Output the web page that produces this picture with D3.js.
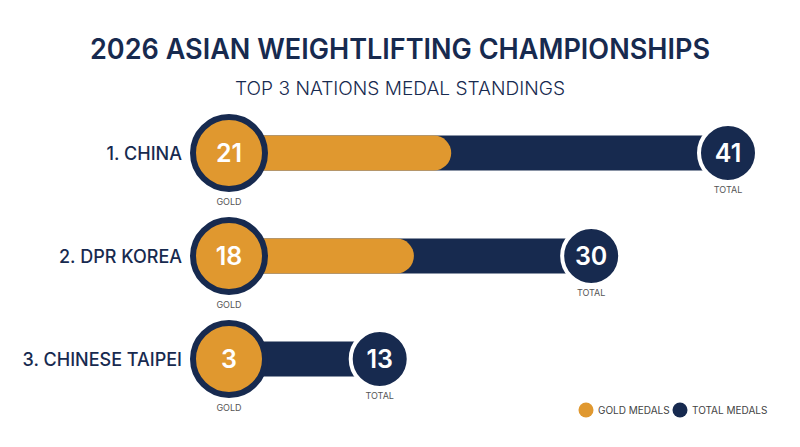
<!DOCTYPE html>
<html>
<head>
<meta charset="utf-8">
<script src="https://cdn.jsdelivr.net/npm/d3@7"></script>
<style>
  body { margin: 0; background: #fff; }
  svg { display: block; font-family: Inter, "Open Sans", sans-serif; }
</style>
</head>
<body>
<script>
'use strict';

// chart data
const nations = ["1. CHINA", "2. DPR KOREA", "3. CHINESE TAIPEI"];
const goldMedals = [21, 18, 3];
const totalMedals = [41, 30, 13];
const legendLabels = ["GOLD MEDALS", "TOTAL MEDALS"];
const titleText = "2026 ASIAN WEIGHTLIFTING CHAMPIONSHIPS";
const subtitleText = "TOP 3 NATIONS MEDAL STANDINGS";

const GOLD = "#e0982f";
const NAVY = "#172a4f";

(function() {
  let width = 800, height = 447;
  let svg = d3.select('body').append('svg')
    .attr('width', width)
    .attr('height', height);

  let rows = nations.map((n, i) => ({ name: n, gold: goldMedals[i], total: totalMedals[i] }));

  // x scale for medal counts, y for rows
  let x = d3.scaleLinear().domain([0, 41]).range([190, 700]);
  let y = d3.scalePoint().domain(nations).range([153, 359]);

  let barH = 35;
  let startX = 229; // centre of the gold badge

  // title
  svg.append('text')
    .attr('x', width / 2).attr('y', 59)
    .attr('text-anchor', 'middle')
    .style('font-size', '28px').style('font-weight', 600)
    .attr('fill', NAVY)
    .attr('textLength', 620).attr('lengthAdjust', 'spacingAndGlyphs')
    .text(titleText);

  svg.append('text')
    .attr('x', width / 2).attr('y', 95)
    .attr('text-anchor', 'middle')
    .style('font-size', '18px').style('font-weight', 300)
    .attr('fill', NAVY)
    .attr('textLength', 330).attr('lengthAdjust', 'spacingAndGlyphs')
    .text(subtitleText);

  let g = svg.selectAll('.row')
    .data(rows)
    .enter()
    .append('g')
    .attr('class', 'row')
    .attr('transform', d => 'translate(0,' + y(d.name) + ')');

  // total bar (navy)
  g.append('rect')
    .attr('x', startX)
    .attr('y', -barH / 2)
    .attr('width', d => x(d.total) + 10 - startX)
    .attr('height', barH)
    .attr('fill', NAVY);

  // gold bar with rounded end
  g.append('rect')
    .attr('x', startX)
    .attr('y', -barH / 2)
    .attr('width', d => Math.max(x(d.gold) - startX, barH))
    .attr('height', barH)
    .attr('rx', barH / 2)
    .attr('fill', GOLD);

  // gold badge
  g.append('circle')
    .attr('cx', startX).attr('cy', 0)
    .attr('r', 36)
    .attr('fill', GOLD)
    .attr('stroke', NAVY)
    .attr('stroke-width', 6);

  g.append('text')
    .attr('x', startX).attr('y', 9)
    .attr('text-anchor', 'middle')
    .style('font-size', '25px').style('font-weight', 600)
    .attr('fill', '#fff')
    .text(d => d.gold);

  g.append('text')
    .attr('x', startX).attr('y', 52)
    .attr('text-anchor', 'middle')
    .style('font-size', '9px')
    .attr('fill', '#555')
    .text('GOLD');

  // total badge
  g.append('circle')
    .attr('cx', d => x(d.total) + 28).attr('cy', 0)
    .attr('r', 29)
    .attr('fill', NAVY)
    .attr('stroke', '#fff')
    .attr('stroke-width', 4);

  g.append('text')
    .attr('x', d => x(d.total) + 28).attr('y', 9)
    .attr('text-anchor', 'middle')
    .style('font-size', '25px').style('font-weight', 600)
    .attr('fill', '#fff')
    .text(d => d.total);

  g.append('text')
    .attr('x', d => x(d.total) + 28).attr('y', 40)
    .attr('text-anchor', 'middle')
    .style('font-size', '9px')
    .attr('fill', '#555')
    .text('TOTAL');

  // nation labels
  g.append('text')
    .attr('x', 182).attr('y', 7)
    .attr('text-anchor', 'end')
    .style('font-size', '18px').style('font-weight', 500)
    .attr('fill', NAVY)
    .text(d => d.name);

  // legend
  let legendX = [586, 680];
  let legend = svg.selectAll('.legend')
    .data(legendLabels)
    .enter()
    .append('g')
    .attr('class', 'legend')
    .attr('transform', (d, i) => 'translate(' + legendX[i] + ',410)');

  legend.append('circle')
    .attr('r', 7.5)
    .attr('fill', (d, i) => i === 0 ? GOLD : NAVY);

  legend.append('text')
    .attr('x', 12).attr('y', 4)
    .style('font-size', '10px')
    .attr('fill', '#444')
    .text(d => d);
})();
</script>
</body>
</html>
